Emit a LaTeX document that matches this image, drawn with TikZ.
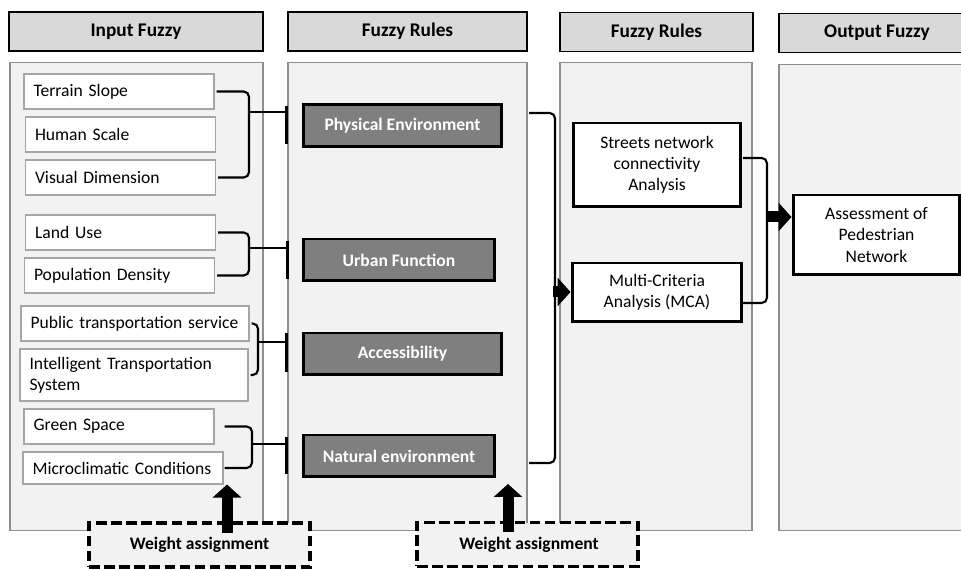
\documentclass[tikz,border=0pt]{standalone}
\usepackage{fontspec}
\setmainfont{Carlito}
\usepackage{xcolor}
\usepackage{tikz}
\usetikzlibrary{arrows.meta}
\definecolor{hdrgray}{HTML}{D9D9D9}
\definecolor{pnlgray}{HTML}{F2F2F2}
\definecolor{rulegray}{HTML}{7F7F7F}
\definecolor{edgegray}{HTML}{8E8E8E}
\tikzset{>=latex}

\begin{document}
\begin{tikzpicture}[x=0.02cm, y=-0.02cm,
    hdr/.style={draw, line width=1.1pt, fill=hdrgray, minimum height=0.78cm, font=\fontsize{11}{13}\selectfont\bfseries},
    panel/.style={draw=edgegray, line width=0.6pt, fill=pnlgray, minimum height=9.38cm},
    inbox/.style={draw=edgegray!80, line width=0.6pt, fill=white, text width=#1, align=left, inner xsep=0.19cm, minimum height=0.7cm},
    rulebox/.style={draw, line width=1.7pt, fill=rulegray, text=white, font=\bfseries, minimum height=0.84cm},
    anbox/.style={draw, line width=1.7pt, fill=white, align=center, inner sep=0pt},
    wbox/.style={draw, line width=1.8pt, dash pattern=on 6pt off 2.6pt, fill=pnlgray, font=\bfseries, minimum width=4.42cm, minimum height=0.88cm},
    brk/.style={line width=1.2pt, rounded corners=3pt},
    bar/.style={line width=1.8pt},
    bigarr/.style={line width=0.22cm, -{Triangle[length=0.26cm, width=0.56cm]}}]
    \useasboundingbox (0,0) rectangle (961,570);
    \clip (0,0) rectangle (961,570);

    % columns
    \node[panel, minimum width=5.06cm] at (136.5,296.5) (P1) {};
    \node[panel, minimum width=4.78cm] at (407.5,296.5) (P2) {};
    \node[panel, minimum width=3.84cm] at (656,296.5) (P3) {};
    \node[panel, minimum width=3.92cm, minimum height=9.34cm] at (877,297.5) (P4) {};

    \node[hdr, minimum width=5.08cm] at (136,31.5) (H1) {Input Fuzzy};
    \node[hdr, minimum width=4.78cm] at (407.5,31.5) (H2) {Fuzzy Rules};
    \node[hdr, minimum width=3.86cm] at (656.5,32) (H3) {Fuzzy Rules};
    \node[hdr, minimum width=3.92cm] at (877,33) (H4) {Output Fuzzy};

    % input variables
    \node[inbox=3.42cm] at (119,91.5) (TS) {Terrain Slope};
    \node[inbox=3.42cm] at (120.5,134.5) (HS) {Human Scale};
    \node[inbox=3.42cm] at (120.5,177.5) (VD) {Visual Dimension};
    \node[inbox=3.42cm] at (120.5,232.5) (LU) {Land Use};
    \node[inbox=3.42cm] at (119.5,275.5) (PD) {Population Density};
    \node[inbox=4.18cm] at (135,323.5) (PT) {Public transportation service};
    \node[inbox=4.18cm, minimum height=1.04cm] at (134,375) (IT) {Intelligent Transportation\\System};
    \node[inbox=3.42cm] at (119,426.5) (GS) {Green Space};
    \node[inbox=3.62cm, minimum height=0.64cm] at (123,468) (MC) {Microclimatic Conditions};

    % rule groups
    \node[rulebox, minimum width=3.98cm] at (402.5,125.5) (PE) {Physical Environment};
    \node[rulebox, minimum width=3.84cm] at (399,260) (UF) {Urban Function};
    \node[rulebox, minimum width=3.98cm] at (402.5,354) (AC) {Accessibility};
    \node[rulebox, minimum width=3.84cm] at (399,456) (NE) {Natural environment};

    \node[anbox, minimum width=3.36cm, minimum height=1.68cm] at (657,165) (ST) {Streets network\\connectivity\\Analysis};
    \node[anbox, minimum width=3.40cm, minimum height=1.18cm] at (657,292.5) (MCA) {Multi-Criteria\\Analysis (MCA)};
    \node[anbox, minimum width=3.34cm, minimum height=1.6cm] at (876.5,235) (AS) {Assessment of\\Pedestrian\\Network};

    % brackets from inputs to rules
    \coordinate (B1) at (249,112);
    \coordinate (B2) at (249,248);
    \coordinate (B3) at (258,342);
    \coordinate (B4) at (252,444);
    \draw[brk] ([xshift=0.04cm]TS.east) -| (B1) |- ([xshift=0.04cm]VD.east);
    \draw[brk] ([xshift=0.04cm]LU.east) -| (B2) |- ([xshift=0.04cm]PD.east);
    \draw[brk] ([xshift=0.04cm]PT.east) -| (B3) |- ([xshift=0.04cm]IT.east);
    \draw[brk] ([xshift=0.2cm]GS.east) -| (B4) |- ([xshift=0.02cm]MC.east);
    \draw[brk] (B1) -- ([xshift=-0.3cm]B1 -| PE.west);
    \draw[brk] (B2) -- ([xshift=-0.3cm]B2 -| UF.west);
    \draw[brk] (B3) -- ([xshift=-0.3cm]B3 -| AC.west);
    \draw[brk] (B4) -- ([xshift=-0.3cm]B4 -| NE.west);
    \draw[bar] ([xshift=-0.3cm,yshift=0.39cm]PE.west) -- ([xshift=-0.3cm,yshift=-0.37cm]PE.west);
    \draw[bar] ([xshift=-0.28cm,yshift=0.38cm]UF.west) -- ([xshift=-0.28cm,yshift=-0.38cm]UF.west);
    \draw[bar] ([xshift=-0.3cm,yshift=0.42cm]AC.west) -- ([xshift=-0.3cm,yshift=-0.36cm]AC.west);
    \draw[bar] ([xshift=-0.3cm,yshift=0.38cm]NE.west) -- ([xshift=-0.3cm,yshift=-0.36cm]NE.west);

    % rules to analysis
    \coordinate (R1a) at (529,113);
    \coordinate (R1b) at (529,463);
    \coordinate (R1m) at (555,292);
    \draw[brk] (R1a) -| (R1m) |- (R1b);
    \draw[bigarr] ([xshift=-0.04cm]R1m) -- (R1m -| MCA.west);

    \coordinate (R2a) at (743,158);
    \coordinate (R2b) at (743,303);
    \coordinate (R2m) at (767,217);
    \draw[brk] (R2a) -| (R2m) |- (R2b);
    \draw[bigarr] (R2m) -- (R2m -| AS.west);

    % weights
    \node[wbox] at (199.5,545) (W1) {Weight assignment};
    \node[wbox] at (527.5,544.5) (W2) {\hspace*{0.06cm}Weight assignment};
    \coordinate (A1) at (227,533);
    \coordinate (A2) at (508,532);
    \coordinate (T2) at (508,484);
    \draw[bigarr] (A1) -- (A1 |- MC.south);
    \draw[bigarr] (A2) -- (T2);
\end{tikzpicture}
\end{document}
